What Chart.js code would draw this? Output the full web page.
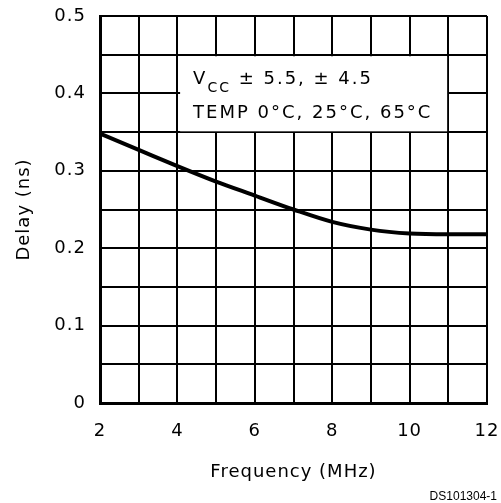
<!DOCTYPE html>
<html>
<head>
<meta charset="utf-8">
<script src="https://cdn.jsdelivr.net/npm/chart.js@4.4.1/dist/chart.umd.min.js"></script>
<style>
  html, body { margin: 0; padding: 0; background: #fff; }
  #wrap { width: 501px; height: 503px; position: relative; }
</style>
</head>
<body>
<div id="wrap"><canvas id="delay-chart"></canvas></div>
<script>
const frequency = [2, 3, 4, 5, 6, 7, 8, 9, 10, 11, 12];
const delay = [0.348, 0.327, 0.306, 0.286, 0.268, 0.250, 0.234, 0.224, 0.219, 0.218, 0.218];
const noteLine1 = ["V", "CC", " \u00b1 5.5, \u00b1 4.5"];
const noteLine2 = "TEMP 0\u00b0C, 25\u00b0C, 65\u00b0C";
const figureId = "DS101304-1";

const FONT = "'DejaVu Sans', sans-serif";

// white box with the test conditions, drawn over the grid
const notePlugin = {
	id: "note",
	beforeDraw(chart) {
		chart.ctx.letterSpacing = "1px";
	},
	beforeDatasetsDraw(chart) {
		const { ctx, scales } = chart;
		const x0 = scales.x.getPixelForValue(4.07);
		const x1 = scales.x.getPixelForValue(10.97);
		const y0 = scales.y.getPixelForValue(0.448);
		const y1 = scales.y.getPixelForValue(0.351);
		ctx.save();
		ctx.fillStyle = "#fff";
		ctx.fillRect(x0, y0, x1 - x0, y1 - y0);
		ctx.fillStyle = "#000";
		ctx.letterSpacing = "2px";
		ctx.textBaseline = "alphabetic";
		ctx.textAlign = "left";
		let x = x0 + 13;
		ctx.font = "18px " + FONT;
		ctx.fillText(noteLine1[0], x, y0 + 28);
		x += ctx.measureText(noteLine1[0]).width;
		ctx.font = "14px " + FONT;
		ctx.fillText(noteLine1[1], x, y0 + 36);
		x += ctx.measureText(noteLine1[1]).width;
		ctx.font = "18px " + FONT;
		ctx.fillText(noteLine1[2], x, y0 + 28);
		ctx.fillText(noteLine2, x0 + 13, y0 + 62);
		ctx.restore();
	},
	afterDraw(chart) {
		const { ctx } = chart;
		ctx.save();
		ctx.letterSpacing = "0px";
		ctx.font = "12px 'Liberation Sans', Arial, sans-serif";
		ctx.fillStyle = "#000";
		ctx.textAlign = "right";
		ctx.textBaseline = "alphabetic";
		ctx.fillText(figureId, 497, 500);
		ctx.restore();
	},
};

new Chart(document.getElementById("delay-chart"), {
	type: "line",
	data: {
		datasets: [
			{
				data: frequency.map((f, i) => ({ x: f, y: delay[i] })),
				borderColor: "#000",
				borderWidth: 4,
				pointRadius: 0,
				cubicInterpolationMode: "monotone",
				fill: false,
			},
		],
	},
	options: {
		responsive: true,
		maintainAspectRatio: false,
		animation: false,
		events: [],
		layout: { padding: { left: 0, top: 16, right: 14, bottom: 0 } },
		plugins: { legend: { display: false }, tooltip: { enabled: false } },
		scales: {
			x: {
				type: "linear",
				min: 2,
				max: 12,
				afterFit: (s) => { s.height = 100; s.paddingLeft = 0; s.paddingRight = 0; },
				border: { color: "#000", width: 3 },
				grid: { color: "#000", lineWidth: 2, drawTicks: false },
				ticks: {
					stepSize: 1,
					padding: 18,
					color: "#000",
					font: { family: FONT, size: 18 },
					autoSkip: false,
					maxRotation: 0,
					callback: (v) => (v % 2 === 0 ? String(v) : ""),
				},
				title: {
					display: true,
					text: "Frequency (MHz)",
					color: "#000",
					font: { family: FONT, size: 18 },
					padding: { top: 0, bottom: 20 },
				},
			},
			y: {
				min: 0,
				max: 0.5,
				afterFit: (s) => { s.width = 100; s.paddingTop = 0; s.paddingBottom = 0; },
				border: { color: "#000", width: 3 },
				grid: { color: "#000", lineWidth: 2, drawTicks: false },
				ticks: {
					stepSize: 0.05,
					padding: 14,
					color: "#000",
					font: { family: FONT, size: 18 },
					autoSkip: false,
					callback: function (v, i) {
						return i % 2 === 0 ? (i === 0 ? "0" : (i * 0.05).toFixed(1)) : "";
					},
				},
				title: {
					display: true,
					text: "Delay (ns)",
					color: "#000",
					font: { family: FONT, size: 18 },
					padding: { top: 14, bottom: 0 },
				},
			},
		},
	},
	plugins: [notePlugin],
});
</script>
</body>
</html>
